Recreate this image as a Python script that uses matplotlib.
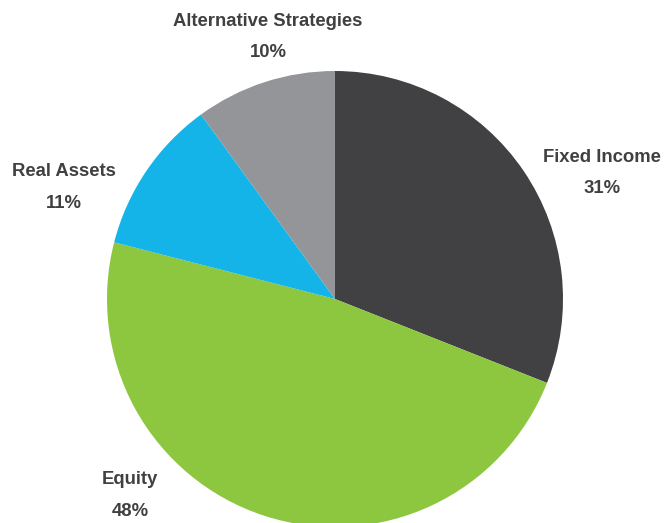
import matplotlib
matplotlib.use("Agg")
import matplotlib.pyplot as plt

categories = ["Fixed Income", "Equity", "Real Assets", "Alternative Strategies"]
values = [31, 48, 11, 10]
colors = ["#414143", "#8dc63f", "#14b4e9", "#939598"]

# label anchor positions in pixel coordinates (x, y from top)
label_pos = [(602, 157), (130, 480), (64, 172), (268, 21)]

W, H = 664, 523
fig = plt.figure(figsize=(W / 100, H / 100), dpi=100)
ax = fig.add_axes([0, 0, 1, 1])

cx, cy, r = 335, 299, 228
ax.pie(values, colors=colors, startangle=90, counterclock=False,
       center=(cx, H - cy), radius=r, frame=True,
       wedgeprops=dict(linewidth=0))
ax.set_xlim(0, W)
ax.set_ylim(0, H)
ax.set_aspect("equal")
ax.axis("off")

for cat, val, (px, py) in zip(categories, values, label_pos):
    ax.text(px, H - py, cat, ha="center", va="center", fontsize=13.3,
            fontweight="bold", color="#404040", family="Liberation Sans")
    ax.text(px, H - py - 31.5, f"{val}%", ha="center", va="center", fontsize=13.3,
            fontweight="bold", color="#404040", family="Liberation Sans")

fig.savefig("out.png", dpi=100)
